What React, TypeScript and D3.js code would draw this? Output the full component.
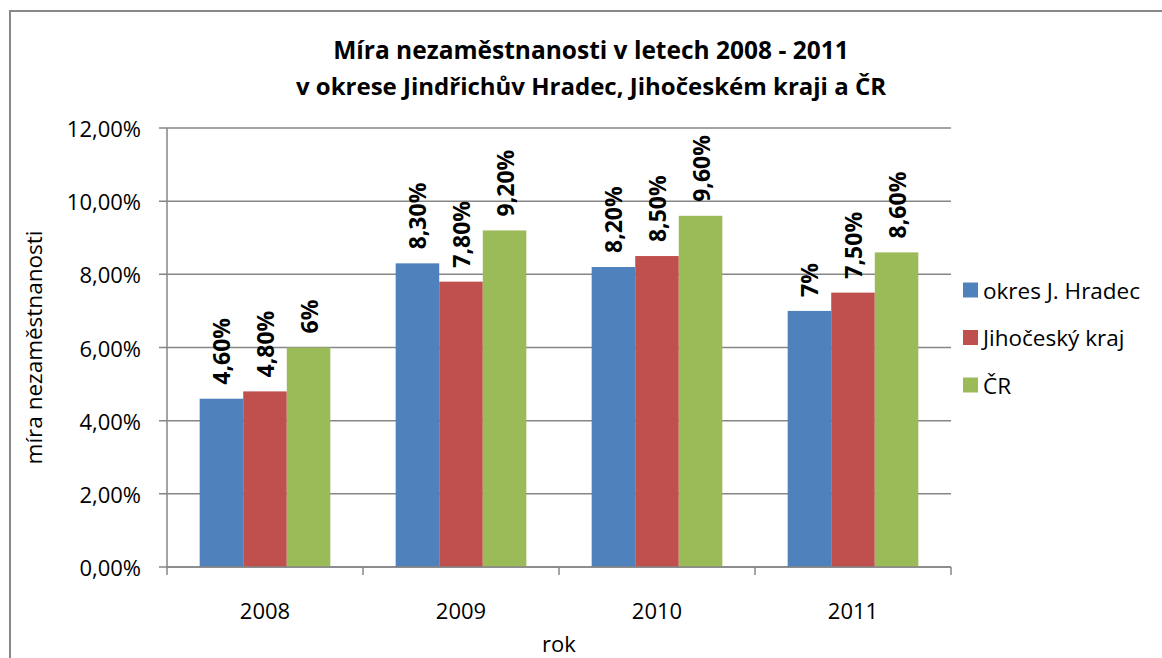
import React from "react";
import * as d3 from "d3";

const years = ["2008", "2009", "2010", "2011"];
const seriesNames = ["okres J. Hradec", "Jihočeský kraj", "ČR"];
const okresValues = [4.6, 8.3, 8.2, 7.0];
const krajValues = [4.8, 7.8, 8.5, 7.5];
const crValues = [6.0, 9.2, 9.6, 8.6];
const yTicks = [0, 2, 4, 6, 8, 10, 12];
const colors = ["#4F81BD", "#C0504D", "#9BBB59"];
const titleLines = [
  "Míra nezaměstnanosti v letech 2008 - 2011",
  "v okrese Jindřichův Hradec, Jihočeském kraji a ČR",
];

const W = 1162;
const H = 658;
const plot = { left: 167, right: 951, top: 128, bottom: 567 };
const FONT = "'Open Sans', sans-serif";
const GRID = "#868686";

function fmtLabel(v: number) {
  if (Number.isInteger(v)) return `${v}%`;
  return v.toFixed(2).replace(".", ",") + "%";
}
function fmtTick(v: number) {
  return v.toFixed(2).replace(".", ",") + "%";
}

export default function App() {
  const series = [okresValues, krajValues, crValues];
  const x = d3.scaleBand<string>().domain(years).range([plot.left, plot.right]).paddingInner(0).paddingOuter(0);
  const xs = d3
    .scaleBand<string>()
    .domain(seriesNames)
    .range([0, x.bandwidth()])
    .paddingInner(0)
    .paddingOuter(0.75);
  const y = d3.scaleLinear().domain([0, 12]).range([plot.bottom, plot.top]);
  const boundaries = [...years.map((yr) => x(yr) as number), plot.right];

  return (
    <svg
      width={W}
      height={H}
      style={{ position: "absolute", left: 0, top: 0, background: "#fff" }}
      fontFamily={FONT}
    >
      <rect x={0} y={0} width={W} height={H} fill="#fff" />
      <rect x={10} y={11} width={W + 20} height={H + 20} fill="none" stroke="#888" strokeWidth={2} />

      {titleLines.map((t, i) => (
        <text
          key={i}
          x={591}
          y={59 + i * 36}
          textAnchor="middle"
          fontSize={i === 0 ? 24.5 : 24}
          fontWeight="bold"
          fill="#000"
        >
          {t}
        </text>
      ))}

      {/* gridlines + y ticks */}
      {yTicks.map((t) => (
        <g key={t}>
          <line x1={plot.left - 8} x2={plot.right} y1={y(t)} y2={y(t)} stroke={GRID} strokeWidth={1.5} />
          <text
            x={141}
            y={y(t)}
            textAnchor="end"
            dominantBaseline="central"
            fontSize={22}
            fill="#000"
          >
            {fmtTick(t)}
          </text>
        </g>
      ))}

      {/* bars */}
      {years.map((yr, i) => (
        <g key={yr}>
          {series.map((vals, s) => {
            const bx = (x(yr) as number) + (xs(seriesNames[s]) as number);
            const v = vals[i];
            return (
              <rect
                key={s}
                x={bx}
                y={y(v)}
                width={xs.bandwidth()}
                height={plot.bottom - y(v)}
                fill={colors[s]}
              />
            );
          })}
        </g>
      ))}

      {/* axes */}
      <line x1={plot.left} x2={plot.left} y1={plot.top} y2={plot.bottom} stroke={GRID} strokeWidth={1.5} />
      <line x1={plot.left} x2={plot.right} y1={plot.bottom} y2={plot.bottom} stroke={GRID} strokeWidth={1.5} />
      {boundaries.map((bx, i) => (
        <line key={i} x1={bx} x2={bx} y1={plot.bottom} y2={plot.bottom + 8} stroke={GRID} strokeWidth={1.5} />
      ))}

      {/* data labels */}
      {years.map((yr, i) => (
        <g key={"l" + yr}>
          {series.map((vals, s) => {
            const cx = (x(yr) as number) + (xs(seriesNames[s]) as number) + xs.bandwidth() / 2;
            const v = vals[i];
            const ly = y(v) - 14;
            return (
              <text
                key={s}
                transform={`translate(${cx},${ly}) rotate(-90)`}
                textAnchor="start"
                dominantBaseline="central"
                fontSize={23}
                fontWeight="bold"
                fill="#000"
              >
                {fmtLabel(v)}
              </text>
            );
          })}
        </g>
      ))}

      {/* x labels */}
      {years.map((yr) => (
        <text
          key={"x" + yr}
          x={(x(yr) as number) + x.bandwidth() / 2}
          y={610}
          textAnchor="middle"
          dominantBaseline="central"
          fontSize={22}
          fill="#000"
        >
          {yr}
        </text>
      ))}

      <text x={(plot.left + plot.right) / 2} y={652} textAnchor="middle" fontSize={22} fill="#000">
        rok
      </text>
      <text
        transform={`translate(33,${(plot.top + plot.bottom) / 2}) rotate(-90)`}
        textAnchor="middle"
        dominantBaseline="central"
        fontSize={22.5}
        fill="#000"
      >
        míra nezaměstnanosti
      </text>

      {/* legend */}
      {seriesNames.map((n, i) => (
        <g key={n} transform={`translate(963,${290 + i * 47.5})`}>
          <rect x={0} y={-7.5} width={15} height={15} fill={colors[i]} />
          <text x={20} y={0} dominantBaseline="central" fontSize={22.5} fill="#000">
            {n}
          </text>
        </g>
      ))}
    </svg>
  );
}
